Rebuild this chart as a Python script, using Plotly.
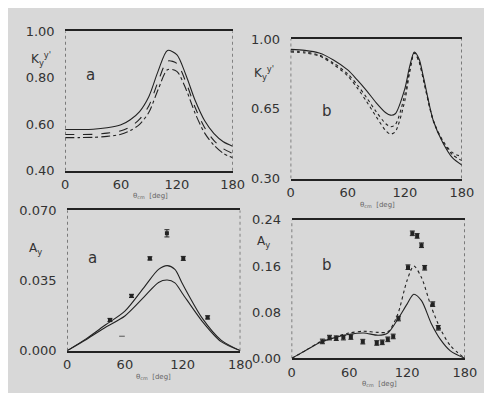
import plotly.graph_objects as go

# ---------------- data ----------------
# Panel a (top-left): K_y^y'
ka_x = [0, 15, 30, 45, 60, 70, 80, 90, 100, 110, 120, 130, 140, 150, 160, 170, 180]
ka_solid = [0.578, 0.578, 0.579, 0.585, 0.598, 0.620, 0.655, 0.720, 0.830, 0.918, 0.900, 0.810, 0.700, 0.615, 0.560, 0.525, 0.506]
ka_dash = [0.556, 0.556, 0.557, 0.562, 0.572, 0.590, 0.622, 0.680, 0.785, 0.872, 0.862, 0.780, 0.670, 0.585, 0.530, 0.495, 0.475]
ka_dot = [0.543, 0.543, 0.544, 0.548, 0.557, 0.573, 0.600, 0.652, 0.750, 0.835, 0.828, 0.750, 0.645, 0.562, 0.510, 0.475, 0.456]

# Panel b (top-right): K_y^y'
kb_x = [0, 15, 30, 45, 60, 70, 80, 90, 100, 105, 110, 120, 125, 130, 135, 140, 150, 160, 170, 180]
kb_solid = [0.948, 0.943, 0.930, 0.895, 0.845, 0.795, 0.740, 0.680, 0.630, 0.618, 0.625, 0.750, 0.860, 0.935, 0.900, 0.800, 0.590, 0.480, 0.405, 0.368]
kb_dash = [0.940, 0.935, 0.920, 0.880, 0.825, 0.770, 0.705, 0.635, 0.575, 0.560, 0.570, 0.720, 0.840, 0.930, 0.890, 0.790, 0.590, 0.485, 0.420, 0.390]
kb_dot = [0.935, 0.930, 0.915, 0.873, 0.815, 0.755, 0.685, 0.610, 0.540, 0.523, 0.535, 0.690, 0.830, 0.930, 0.885, 0.785, 0.590, 0.490, 0.430, 0.410]

# Panel a (bottom-left): A_y
aa_x = [0, 20, 40, 60, 80, 95, 104, 112, 120, 140, 160, 180]
aa_upper = [0.0, 0.0060, 0.0129, 0.0197, 0.0316, 0.0405, 0.0424, 0.0405, 0.0332, 0.0165, 0.0053, 0.0]
aa_lower = [0.0, 0.0056, 0.0117, 0.0173, 0.0268, 0.0340, 0.0352, 0.0338, 0.0284, 0.0149, 0.0045, 0.0]
aa_data_x = [44.5, 66.9, 86.0, 103.7, 120.7, 146.0]
aa_data_y = [0.0153, 0.0273, 0.0460, 0.0585, 0.0460, 0.0166]
aa_data_err = [0.0008, 0.0008, 0.0008, 0.0018, 0.0010, 0.0008]
aa_extra_x = [57.0]
aa_extra_y = [0.0072]

# Panel b (bottom-right): A_y
ab_x = [0, 15, 30, 45, 60, 75, 90, 100, 110, 120, 127, 135, 145, 155, 165, 180]
ab_solid = [0.0, 0.014, 0.0278, 0.036, 0.0417, 0.044, 0.040, 0.044, 0.067, 0.094, 0.111, 0.100, 0.061, 0.032, 0.013, 0.0]
ab_dot = [0.0, 0.014, 0.029, 0.037, 0.044, 0.047, 0.045, 0.046, 0.075, 0.135, 0.160, 0.140, 0.090, 0.050, 0.022, 0.0]
ab_data_x = [32.0, 39.4, 46.4, 53.8, 61.6, 74.0, 88.5, 94.2, 100.0, 105.6, 111.0, 121.0, 125.5, 130.5, 135.0, 138.3, 146.7, 152.4]
ab_data_y = [0.0294, 0.036, 0.035, 0.036, 0.037, 0.029, 0.0267, 0.0278, 0.033, 0.038, 0.069, 0.158, 0.2167, 0.2122, 0.196, 0.157, 0.094, 0.053]
ab_data_err = [0.004] * 18

x_ticks = [0, 60, 120, 180]

# ---------------- figure ----------------
W, H = 492, 393
BG = "#d8d8d8"
INK = "#222222"

def px_x(p):
    return p / W

def px_y(p):
    return 1 - p / H

panels = [
    ("x", 55, 228, 17, 162, [0.40, 1.00], [0.40, 0.60, 0.80, 1.00], ["0.40", "0.60", "0.80", "1.00"]),
    ("x2", 288, 465, 25, 170, [0.30, 1.00], [0.30, 0.65, 1.00], ["0.30", "0.65", "1.00"]),
    ("x3", 57, 236, 203, 349, [0.0, 0.070], [0.0, 0.035, 0.070], ["0.000", "0.035", "0.070"]),
    ("x4", 289, 468, 213, 357, [0.0, 0.24], [0.0, 0.08, 0.16, 0.24], ["0.00", "0.08", "0.16", "0.24"]),
]

fig = go.Figure()
layout = {}
shapes = []
tick_font = dict(family="DejaVu Sans", size=13, color="#333333")

for i, (xn, l, r, t, b, yr, yt, yl) in enumerate(panels):
    suffix = "" if i == 0 else str(i + 1)
    layout["xaxis" + suffix] = dict(
        domain=[px_x(l), px_x(r)], range=[0, 180], anchor="y" + suffix,
        tickvals=x_ticks, ticktext=[str(v) for v in x_ticks],
        showline=True, mirror=True, linecolor=INK, linewidth=1.5,
        showgrid=False, zeroline=False, ticks="outside", ticklen=1,
        tickcolor="rgba(0,0,0,0)", tickfont=tick_font, fixedrange=True,
    )
    layout["yaxis" + suffix] = dict(
        domain=[px_y(b), px_y(t)], range=yr, anchor="x" + suffix,
        tickvals=yt, ticktext=yl, showline=False, showgrid=False,
        zeroline=False, ticks="outside", ticklen=7, tickcolor="rgba(0,0,0,0)",
        tickfont=tick_font, fixedrange=True,
    )
    for xv in (0, 180):
        shapes.append(dict(type="line", xref=xn, yref="y" + suffix,
                           x0=xv, x1=xv, y0=yr[0], y1=yr[1],
                           line=dict(color="#444444", width=1.2, dash="dot")))

def line(x, y, ax, dash="solid", width=1.1):
    suffix = "" if ax == 1 else str(ax)
    fig.add_trace(go.Scatter(x=x, y=y, mode="lines", xaxis="x" + suffix, yaxis="y" + suffix,
                             line=dict(color=INK, width=width, dash=dash, shape="spline", smoothing=0.8),
                             showlegend=False, hoverinfo="skip"))

line(ka_x, ka_solid, 1)
line(ka_x, ka_dash, 1, "dash")
line(ka_x, ka_dot, 1, "dashdot")

line(kb_x, kb_solid, 2)
line(kb_x, kb_dash, 2, "dot")
line(kb_x, kb_dot, 2, "dot")

line(aa_x, aa_upper, 3)
line(aa_x, aa_lower, 3)

line(ab_x, ab_solid, 4)
line(ab_x, ab_dot, 4, "dot")

def points(x, y, err, ax):
    suffix = "" if ax == 1 else str(ax)
    fig.add_trace(go.Scatter(x=x, y=y, mode="markers", xaxis="x" + suffix, yaxis="y" + suffix,
                             marker=dict(symbol="square", size=4, color=INK),
                             error_y=dict(type="data", array=err, visible=True, color=INK,
                                          thickness=1, width=2.5),
                             showlegend=False, hoverinfo="skip"))

points(aa_data_x, aa_data_y, aa_data_err, 3)
points(ab_data_x, ab_data_y, ab_data_err, 4)

fig.add_trace(go.Scatter(x=aa_extra_x, y=aa_extra_y, mode="markers", xaxis="x3", yaxis="y3",
                         marker=dict(symbol="line-ew", size=4, line=dict(color="#555555", width=1)),
                         showlegend=False, hoverinfo="skip"))

annotations = []

def ann(text, x, y, size=13, color="#333333", xanchor="center"):
    annotations.append(dict(text=text, x=px_x(x), y=px_y(y), xref="paper", yref="paper",
                            showarrow=False, xanchor=xanchor, yanchor="middle",
                            font=dict(family="DejaVu Sans", size=size, color=color)))

xlab = "θ<sub>cm</sub>  [deg]"
ann(xlab, 143, 188, size=7, color="#666666")
ann(xlab, 378, 198, size=7, color="#666666")
ann(xlab, 146, 376, size=7, color="#666666")
ann(xlab, 380, 384, size=7, color="#666666")

ky = "K<sub>y</sub><sup>y'</sup>"
ann(ky, 30, 46, size=12)
ann(ky, 260, 60, size=12)
ann("A<sub>y</sub>", 24, 243, size=12)
ann("A<sub>y</sub>", 260, 236, size=12)

ann("a", 81, 62, size=15)
ann("b", 326, 100, size=15)
ann("a", 83, 253, size=15)
ann("b", 326, 260, size=15)

shapes.append(dict(type="rect", xref="paper", yref="paper", x0=px_x(489), x1=1.0, y0=0, y1=1,
                   fillcolor="#111111", line=dict(width=0), layer="above"))

fig.update_layout(
    width=W, height=H, margin=dict(l=0, r=0, t=0, b=0),
    paper_bgcolor=BG, plot_bgcolor=BG, showlegend=False,
    shapes=shapes, annotations=annotations, **layout,
)

fig.write_html("out.html")
